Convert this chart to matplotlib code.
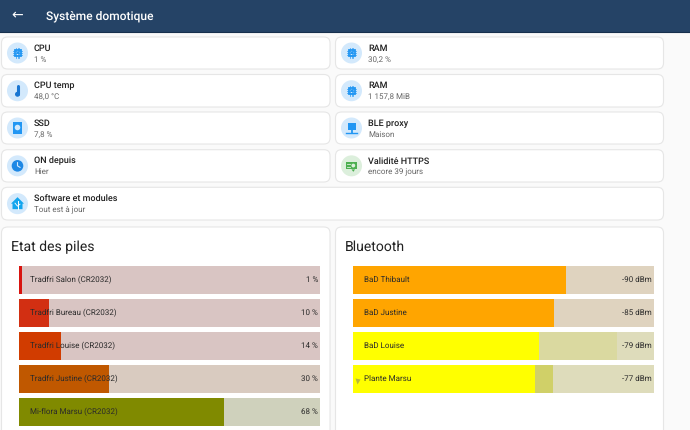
import matplotlib
matplotlib.use('Agg')
import matplotlib.pyplot as plt
from matplotlib.patches import FancyBboxPatch, Circle, Rectangle, Polygon

plt.rcParams['font.family'] = ['Roboto', 'DejaVu Sans']
plt.rcParams['text.hinting'] = 'none'
plt.rcParams['text.hinting_factor'] = 1

W, H = 690, 430

# entity rows
left_names = ['CPU', 'CPU temp', 'SSD', 'ON depuis', 'Software et modules']
left_states = ['1 %', '48,0 °C', '7,8 %', 'Hier', 'Tout est à jour']
left_icons = ['chip', 'thermo', 'disk', 'clock', 'home']
right_names = ['RAM', 'RAM', 'BLE proxy', 'Validité HTTPS']
right_states = ['30,2 %', '1 157,8 MiB', 'Maison', 'encore 39 jours']
right_icons = ['chip', 'chip', 'net', 'cert']

# battery bars
bat_names = ['Tradfri Salon (CR2032)', 'Tradfri Bureau (CR2032)', 'Tradfri Louise (CR2032)',
             'Tradfri Justine (CR2032)', 'Mi-flora Marsu (CR2032)']
bat_values = [1, 10, 14, 30, 68]
bat_colors = ['#d8140f', '#d22f12', '#d13c00', '#c05800', '#808a00']
bat_tracks = ['#d9c5c3', '#d9c5c3', '#d9c5c3', '#d9cbc0', '#cfd1bc']

# bluetooth bars
ble_names = ['BaD Thibault', 'BaD Justine', 'BaD Louise', 'Plante Marsu']
ble_labels = ['-90 dBm', '-85 dBm', '-79 dBm', '-77 dBm']
ble_fill = [70.8, 66.8, 62.0, 60.5]
ble_peak = [70.8, 66.8, 87.7, 66.4]
ble_colors = ['#ffa500', '#ffa500', '#ffff00', '#ffff00']
ble_peak_colors = ['#ffa500', '#ffa500', '#dad9a0', '#d0d068']
ble_tracks = ['#dfd3bf', '#dfd3bf', '#dedcbb', '#dedcbb']

fig = plt.figure(figsize=(W / 100, H / 100), dpi=100, facecolor='#fafafa')
bg = fig.add_axes([0, 0, 1, 1])
bg.set_xlim(0, W)
bg.set_ylim(H, 0)
bg.axis('off')

ICON_BLUE = '#2196f3'


def card(x0, y0, x1, y1, r=6):
    bg.add_patch(FancyBboxPatch((x0 + r, y0 + r), x1 - x0 - 2 * r, y1 - y0 - 2 * r,
                                boxstyle='round,pad=%d,rounding_size=%d' % (r, r),
                                fc='white', ec='#e6e6e6', lw=0.8, zorder=1))


def icon(kind, cx, cy):
    bg_col = '#dcefdc' if kind == 'cert' else '#d3e9fc'
    col = '#4caf50' if kind == 'cert' else ICON_BLUE
    bg.add_patch(Circle((cx, cy), 10.5, fc=bg_col, ec='none', zorder=2))
    if kind == 'chip':
        bg.add_patch(Rectangle((cx - 3, cy - 3), 6, 6, fc='none', ec=col, lw=1.3, zorder=3))
        bg.add_patch(Rectangle((cx - 1, cy - 1), 2, 2, fc=col, ec='none', zorder=3))
        for d in (-1.8, 0, 1.8):
            bg.plot([cx + d, cx + d], [cy - 4.8, cy + 4.8], color=col, lw=0.5, zorder=2.5)
            bg.plot([cx - 4.8, cx + 4.8], [cy + d, cy + d], color=col, lw=0.5, zorder=2.5)
    elif kind == 'thermo':
        bg.plot([cx, cx], [cy - 5, cy + 3], color='#1976d2', lw=2.2, solid_capstyle='round', zorder=3)
        bg.add_patch(Circle((cx, cy + 3.5), 2.5, fc='#1976d2', ec='none', zorder=3))
    elif kind == 'disk':
        bg.add_patch(Rectangle((cx - 4.5, cy - 6), 9, 12, fc=col, ec='none', zorder=3))
        bg.add_patch(Circle((cx, cy - 0.5), 2.8, fc='#d3e9fc', ec='none', zorder=4))
    elif kind == 'clock':
        bg.add_patch(Circle((cx, cy), 5.8, fc='#1e88e5', ec='none', zorder=3))
        bg.plot([cx, cx, cx + 2.5], [cy - 3.2, cy, cy + 1.5], color='#d3e9fc', lw=0.8, zorder=4)
    elif kind == 'home':
        bg.add_patch(Polygon([(cx, cy - 6.5), (cx + 6.5, cy), (cx + 5, cy), (cx + 5, cy + 5.5),
                              (cx - 5, cy + 5.5), (cx - 5, cy), (cx - 6.5, cy)],
                             fc='#12a5ee', ec='none', zorder=3))
        bg.plot([cx, cx], [cy - 3, cy + 5.5], color='white', lw=0.7, zorder=4)
        bg.plot([cx - 2.5, cx, cx + 2.5], [cy - 0.5, cy + 2.5, cy + 0.5], color='white', lw=0.6, zorder=4)
    elif kind == 'net':
        bg.add_patch(Rectangle((cx - 4, cy - 5.5), 8, 7.5, fc=col, ec='none', zorder=3))
        bg.plot([cx, cx], [cy + 2, cy + 4.5], color=col, lw=1.3, zorder=3)
        bg.plot([cx - 5.5, cx + 5.5], [cy + 4.5, cy + 4.5], color=col, lw=1.0, zorder=3)
    elif kind == 'cert':
        bg.add_patch(Rectangle((cx - 5.5, cy - 4), 11, 7.5, fc=col, ec='none', zorder=3))
        bg.add_patch(Circle((cx + 1.8, cy - 0.3), 1.9, fc='#dcefdc', ec='none', zorder=4))
        bg.plot([cx - 4.5, cx - 1.5], [cy - 2, cy - 2], color='#dcefdc', lw=0.6, zorder=4)
        bg.plot([cx - 4.5, cx - 1.5], [cy + 0.8, cy + 0.8], color='#dcefdc', lw=0.6, zorder=4)
        bg.add_patch(Polygon([(cx, cy + 3.5), (cx + 3.6, cy + 3.5), (cx + 1.8, cy + 6)], fc=col, ec='none', zorder=3))


def entity(name, state, kind, x0, x1, y0, y1):
    card(x0, y0, x1, y1)
    icon(kind, x0 + 16, (y0 + y1) / 2)
    bg.text(x0 + 32.5, y0 + 11.3, name, fontsize=6.2, fontweight='medium', color='#212121',
            va='center', ha='left', zorder=5)
    bg.text(x0 + 32.5, y0 + 22.3, state, fontsize=5.6, color='#666666', va='center', ha='left', zorder=5)


# header
bg.add_patch(Rectangle((0, 0), W, 31.5, fc='#254366', ec='none', zorder=1))
bg.plot([0, W], [31.5, 31.5], color='#17304d', lw=0.8, zorder=1)
bg.text(17.5, 15.5, '←', fontsize=10, color='white', ha='center', va='center',
        family='DejaVu Sans', zorder=5)
bg.text(45.5, 16, 'Système domotique', fontsize=8.5, fontweight='medium', color='white',
        ha='left', va='center', zorder=5)

row_tops = [37, 74.5, 112, 149.7, 187.3]
row_bots = [69, 107, 144, 182, 220]
for i in range(4):
    entity(left_names[i], left_states[i], left_icons[i], 1.5, 330, row_tops[i], row_bots[i])
    entity(right_names[i], right_states[i], right_icons[i], 335.5, 663.5, row_tops[i], row_bots[i])
entity(left_names[4], left_states[4], left_icons[4], 1.5, 663.5, row_tops[4], row_bots[4])

# big cards run past the bottom edge
card(1.5, 227, 330, 460)
card(335.5, 227, 663.5, 460)
bg.text(11, 247.3, 'Etat des piles', fontsize=10.05, color='#212121', ha='left', va='center', zorder=5)
bg.text(345, 247.3, 'Bluetooth', fontsize=10.05, color='#212121', ha='left', va='center', zorder=5)


def bar_axes(x0, x1, n):
    top = 263.5
    h = 33 * n
    ax = fig.add_axes([x0 / W, 1 - (top + h) / H, (x1 - x0) / W, h / H], zorder=3)
    ax.set_xlim(0, 100)
    ax.set_ylim(n - 0.5, -0.5)
    ax.axis('off')
    return ax


BAR_H = 28 / 33

ax = bar_axes(19, 320, len(bat_names))
ax.barh(range(5), [100] * 5, height=BAR_H, color=bat_tracks, zorder=1)
ax.barh(range(5), bat_values, height=BAR_H, color=bat_colors, zorder=2)
for i, name in enumerate(bat_names):
    ax.text(3.8, i, name, fontsize=6.1, color='#2a2a2a', va='center', ha='left', zorder=3)
    ax.text(99.3, i, '%d %%' % bat_values[i], fontsize=6.1, color='#2a2a2a', va='center', ha='right', zorder=3)

ax = bar_axes(352.8, 653.8, len(ble_names))
ax.barh(range(4), [100] * 4, height=BAR_H, color=ble_tracks, zorder=1)
ax.barh(range(4), ble_peak, height=BAR_H, color=ble_peak_colors, zorder=2)
ax.barh(range(4), ble_fill, height=BAR_H, color=ble_colors, zorder=3)
for i, name in enumerate(ble_names):
    ax.text(3.8, i, name, fontsize=6.1, color='#2a2a2a', va='center', ha='left', zorder=4)
    ax.text(99.3, i, ble_labels[i], fontsize=6.1, color='#2a2a2a', va='center', ha='right', zorder=4)
ax.plot([1.4], [3.05], marker='v', ms=3.6, color='#b8b83a', mec='none', zorder=4)

fig.savefig('out.png', dpi=100, facecolor=fig.get_facecolor())
